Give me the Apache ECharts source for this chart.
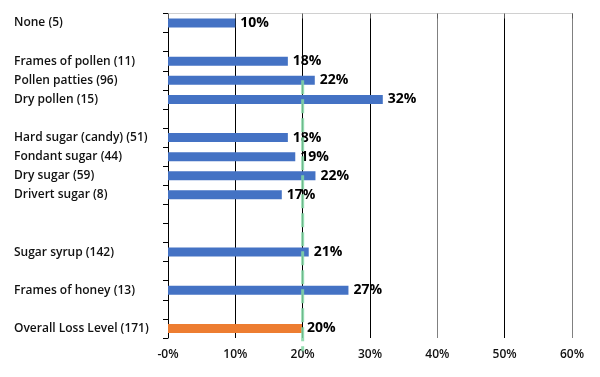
<!DOCTYPE html>
<html>
<head>
<meta charset="utf-8">
<script src="https://cdn.jsdelivr.net/npm/echarts@6/dist/echarts.min.js"></script>
<style>html,body{margin:0;padding:0;background:#fff}#c{width:600px;height:377px}</style>
</head>
<body>
<div id="c"></div>
<script>
const categories = [
  'None (5)', '', 'Frames of pollen (11)', 'Pollen patties (96)', 'Dry pollen (15)', ' ',
  'Hard sugar (candy) (51)', 'Fondant sugar (44)', 'Dry sugar (59)', 'Drivert sugar (8)', '  ', '   ',
  'Sugar syrup (142)', '    ', 'Frames of honey (13)', '     ', 'Overall Loss Level (171)'
];
const values = [10, null, 17.8, 21.8, 31.9, null, 17.8, 18.9, 21.9, 16.9, null, null, 20.9, null, 26.8, null, 19.9];
const overallIndex = 16;
const refLevel = 20;
const refStart = 3.5;
const refEnd = 17.7;
const xTicks = [0, 10, 20, 30, 40, 50, 60];

const barData = values.map((v, i) => v == null ? null : {
  value: v,
  itemStyle: { color: i === overallIndex ? '#ED7D31' : '#4472C4' }
});

const font = '"Open Sans", "Noto Sans", sans-serif';
const chart = echarts.init(document.getElementById('c'));
chart.setOption({
  animation: false,
  grid: { left: 168, right: 28, top: 13.5, height: 324.5 },
  xAxis: [{
    type: 'value', min: xTicks[0], max: xTicks[xTicks.length - 1], interval: 10,
    axisLine: { show: true, lineStyle: { color: '#595959', width: 1 } },
    axisTick: { show: true, length: 5, lineStyle: { color: '#595959' } },
    axisLabel: { color: '#111', fontFamily: font, fontSize: 12, fontWeight: 600, margin: 11,
      formatter: v => (v === 0 ? '-0%' : v + '%') },
    splitLine: { show: true, lineStyle: { color: ['#000', '#000', '#000', '#000', '#808080', '#000', '#808080'], width: 1 } }
  }, {
    type: 'value', position: 'top', min: xTicks[0], max: xTicks[xTicks.length - 1],
    axisLine: { show: true, lineStyle: { color: '#d0d0d0' } },
    axisTick: { show: false }, axisLabel: { show: false }, splitLine: { show: false }
  }],
  yAxis: [{
    type: 'category', data: categories, inverse: true,
    axisLine: { show: true, lineStyle: { color: '#000', width: 1 } },
    axisTick: { show: true, length: 5, lineStyle: { color: '#000' } },
    axisLabel: { align: 'left', margin: 154, color: '#111', fontFamily: font, fontSize: 12, fontWeight: 600,
      interval: 0, formatter: v => v.trim() }
  }, {
    type: 'value', min: 0, max: categories.length, inverse: true, show: false
  }],
  series: [{
    type: 'bar', data: barData, barWidth: 9, xAxisIndex: 0, yAxisIndex: 0,
    label: { show: true, position: 'right', distance: 5, color: '#000', fontWeight: 'bold',
      fontFamily: font, fontSize: 14, formatter: p => Math.round(p.value) + '%' },
    z: 2
  }, {
    type: 'line', xAxisIndex: 0, yAxisIndex: 1, clip: false, symbol: 'none', z: 5,
    data: [[refLevel, refStart], [refLevel, refEnd]],
    lineStyle: { color: 'rgba(130,215,165,0.85)', width: 3, type: [14, 5], dashOffset: 0 }
  }]
});
</script>
</body>
</html>
